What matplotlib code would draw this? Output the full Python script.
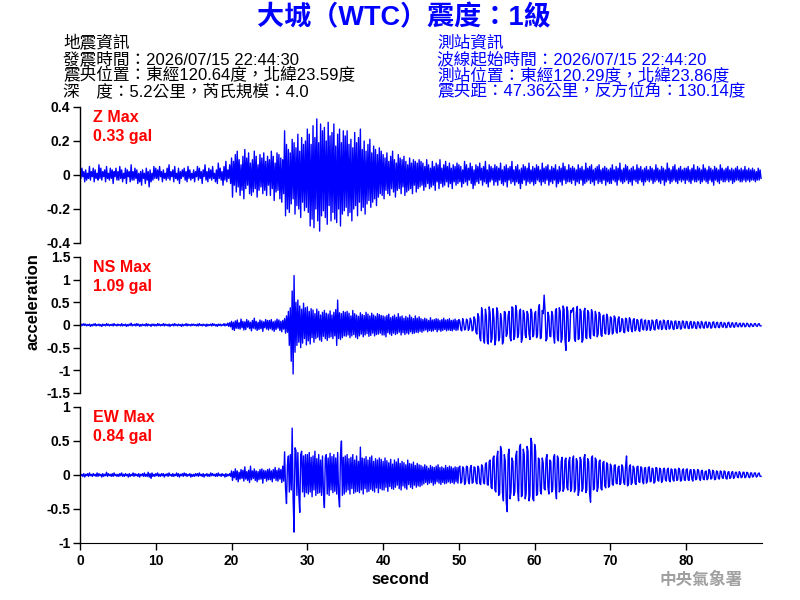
import numpy as np
import matplotlib
matplotlib.use("Agg")
import matplotlib.pyplot as plt

plt.rcParams['font.family'] = ['Liberation Sans', 'Noto Sans CJK TC']
plt.rcParams['axes.unicode_minus'] = False

# each row = 5 seconds of trace, values in 0.01 gal
row_sec = 5.0

z_rows = [
    [3, -2, 4, -1, 2, -4, 3, -3, 1, -2, 5, -3, 2, -1, 4, -4, 3, -2, 1, -3, 6, -2, 4, -3, 2, -1, 3, -4, 5, -2, 1, -3, 4, -2, 3, -5, 2, -1, 4, -3],
    [2, -3, 5, -2, 3, -4, 1, -2, 4, -5, 3, -1, 2, -4, 6, -3, 2, -3, 4, -2, 3, -5, 1, -4, 2, -6, 3, -2, 1, -5, 4, -3, 2, -7, 3, -4, 1, -3, 5, -2],
    [4, -2, 3, -3, 5, -1, 2, -4, 3, -2, 1, -3, 4, -2, 6, -3, 2, -1, 3, -4, 5, -2, 1, -3, 4, -5, 2, -2, 3, -1, 4, -3, 2, -4, 5, -2, 3, -3, 1, -2],
    [3, -4, 2, -1, 5, -3, 4, -2, 2, -5, 3, -1, 6, -3, 2, -4, 4, -2, 3, -3, 5, -2, 1, -4, 3, -5, 7, -2, 4, -3, 2, -6, 5, -3, 8, -4, 3, -2, 6, -5],
    [10, -13, 8, -6, 12, -10, 14, -7, 9, -12, 6, -9, 11, -14, 15, -8, 10, -6, 13, -11, 7, -12, 9, -10, 14, -8, 11, -13, 6, -9, 12, -7, 10, -11, 13, -9, 8, -12, 11, -6],
    [9, -12, 14, -8, 11, -15, 7, -10, 13, -9, 12, -14, 10, -16, 9, -11, 26, -24, 18, -20, 15, -22, 13, -17, 21, -14, 19, -23, 16, -18, 24, -20, 14, -25, 22, -16, 18, -21, 20, -19],
    [27, -22, 24, -30, 18, -26, 29, -31, 22, -20, 33, -27, 19, -33, 30, -24, 26, -21, 28, -25, 20, -29, 31, -18, 23, -27, 25, -22, 30, -26, 17, -28, 24, -20, 27, -30, 19, -23, 26, -21],
    [23, -19, 26, -24, 18, -22, 21, -27, 16, -20, 25, -18, 19, -24, 22, -16, 27, -21, 15, -19, 20, -23, 14, -17, 18, -15, 21, -19, 13, -16, 17, -14, 15, -18, 12, -13, 16, -11, 14, -12],
    [12, -14, 10, -9, 13, -11, 8, -12, 11, -8, 14, -10, 9, -13, 7, -9, 12, -8, 10, -11, 9, -7, 11, -12, 8, -10, 6, -9, 10, -8, 7, -11, 9, -6, 8, -10, 7, -8, 9, -7],
    [8, -6, 7, -9, 5, -7, 9, -5, 6, -8, 4, -7, 8, -6, 5, -9, 7, -4, 6, -8, 9, -5, 4, -7, 6, -6, 8, -4, 5, -7, 7, -5, 4, -8, 6, -4, 5, -6, 7, -5],
    [6, -4, 5, -7, 3, -5, 8, -4, 6, -6, 4, -3, 7, -5, 5, -8, 3, -6, 6, -4, 5, -5, 7, -3, 4, -6, 5, -4, 8, -5, 3, -7, 6, -4, 5, -3, 4, -6, 6, -4],
    [5, -6, 4, -3, 7, -5, 3, -6, 5, -4, 6, -7, 4, -3, 5, -5, 8, -4, 3, -6, 5, -4, 6, -5, 3, -8, 4, -5, 6, -3, 5, -6, 4, -4, 7, -5, 3, -4, 5, -6],
    [4, -5, 6, -3, 5, -4, 3, -6, 7, -4, 4, -5, 5, -3, 6, -6, 3, -4, 5, -5, 4, -3, 6, -7, 3, -5, 5, -4, 4, -6, 7, -3, 5, -5, 3, -4, 6, -4, 4, -5],
    [5, -3, 4, -6, 3, -4, 6, -5, 4, -3, 5, -6, 3, -5, 7, -4, 4, -3, 5, -5, 6, -4, 3, -6, 4, -3, 5, -5, 6, -4, 3, -5, 4, -3, 5, -6, 4, -4, 3, -5],
    [4, -5, 6, -3, 3, -4, 5, -6, 4, -3, 7, -4, 3, -5, 4, -4, 6, -3, 5, -5, 3, -4, 4, -6, 5, -3, 3, -4, 6, -5, 4, -3, 5, -4, 3, -6, 4, -4, 5, -3],
    [3, -4, 5, -3, 4, -5, 3, -4, 6, -3, 4, -4, 3, -5, 5, -3, 4, -6, 3, -4, 7, -3, 4, -5, 3, -4, 5, -3, 6, -4, 3, -5, 4, -3, 5, -4, 3, -3, 4, -5],
    [4, -3, 5, -4, 3, -5, 4, -3, 6, -4, 3, -4, 5, -3, 4, -5, 3, -4, 6, -3, 4, -4, 3, -5, 5, -3, 4, -4, 3, -6, 5, -3, 4, -4, 3, -5, 6, -3, 4, -4],
    [3, -4, 4, -3, 5, -4, 3, -3, 4, -5, 3, -4, 4, -3, 5, -3, 3, -4, 4, -4, 3, -3, 5, -4, 3, -3, 4, -4, 3, -3, 4, -3, 3, -4, 2, -3, 4, -3, 3, -2],
]

ns_rows = [
    [1, -2, 2, -1, 3, -1, 2, -2, 1, -1, 2, -3, 1, -2, 2, -1, 3, -2, 1, -1, 2, -2, 1, -3, 2, -1, 1, -2, 3, -1, 2, -2, 1, -1, 2, -2, 3, -1, 1, -2],
    [2, -1, 1, -2, 3, -2, 1, -1, 2, -3, 1, -2, 2, -1, 4, -2, 1, -1, 2, -2, 3, -1, 2, -3, 1, -2, 2, -1, 1, -2, 3, -2, 2, -1, 1, -3, 2, -1, 2, -2],
    [1, -2, 3, -1, 2, -2, 1, -1, 3, -2, 2, -1, 1, -2, 2, -3, 1, -1, 2, -2, 3, -1, 1, -2, 2, -1, 1, -3, 2, -2, 1, -1, 3, -2, 2, -1, 1, -2, 2, -1],
    [2, -1, 1, -2, 2, -2, 3, -1, 1, -2, 2, -1, 1, -3, 2, -2, 1, -1, 2, -2, 3, -1, 2, -2, 1, -3, 2, -1, 2, -2, 1, -1, 3, -2, 2, -1, 4, -3, 5, -4],
    [8, -10, 6, -12, 9, -7, 11, -8, 5, -9, 13, -6, 8, -11, 7, -10, 12, -5, 9, -8, 6, -13, 10, -7, 15, -9, 8, -12, 6, -10, 11, -8, 9, -14, 7, -6, 12, -9, 10, -11],
    [10, -8, 12, -11, 7, -14, 9, -10, 13, -7, 11, -12, 8, -15, 10, -9, 14, -18, 20, -16, 30, -45, 38, -80, 75, -108, 109, -60, 50, -45, 55, -38, 42, -50, 35, -40, 48, -30, 38, -44],
    [40, -35, 30, -42, 36, -28, 33, -38, 25, -30, 35, -27, 30, -33, 22, -36, 28, -25, 32, -30, 26, -34, 24, -28, 31, -26, 22, -30, 28, -24, 34, -45, 55, -30, 27, -32, 25, -28, 30, -24],
    [28, -25, 30, -22, 26, -28, 20, -24, 32, -21, 25, -27, 22, -30, 19, -24, 27, -20, 23, -26, 21, -22, 28, -19, 24, -25, 20, -23, 26, -18, 22, -24, 19, -21, 25, -20, 23, -18, 21, -22],
    [20, -22, 18, -26, 21, -17, 24, -20, 16, -23, 19, -18, 22, -21, 17, -19, 25, -16, 18, -22, 20, -17, 15, -21, 19, -18, 16, -20, 22, -15, 17, -19, 14, -18, 20, -16, 15, -17, 18, -14],
    [14, -16, 12, -13, 15, -11, 13, -15, 10, -12, 16, -14, 11, -13, 12, -10, 14, -15, 13, -11, 10, -14, 12, -12, 15, -10, 11, -13, 12, -11, 14, -12, 10, -13, 11, -10, 13, -12, 10, -11],
    [12, 8, -10, -13, 14, 6, -11, -9, 13, 10, -12, -8, 15, 9, -13, -11, 18, 12, -16, -20, 25, 18, -28, -35, 38, 22, -30, -40, 35, 20, -36, -42, 40, 25, -38, -30, 36, 15, -44, -32],
    [38, 30, -35, -28, 25, 10, -42, -36, 30, 28, -25, -20, 22, 30, -28, -35, 40, 38, -32, -25, 43, 30, -28, -20, 30, 35, -38, -30, 32, 25, -22, -28, 30, 24, -20, -32, 35, 28, -26, -22],
    [25, 30, -28, -22, 35, 45, -30, -28, 32, 25, 66, 30, -35, -30, 28, 20, -25, -26, 30, 22, -24, -40, 32, 36, -30, -35, 38, 30, -38, -30, 42, 35, -32, -56, 40, 30, -36, -30, 32, 28],
    [35, 38, -30, -36, 28, 41, -32, -30, 35, 30, -38, -33, 30, 37, -28, -30, 32, 28, -25, -30, 34, 26, -22, -24, 30, 22, -26, -20, 28, 24, -22, -25, 20, 22, -18, -20, 24, 18, -21, -17],
    [18, 15, -20, -17, 20, 16, -14, -18, 13, 18, -15, -12, 14, 12, -16, -17, 15, 13, -11, -14, 16, 12, -10, -15, 11, 14, -13, -10, 12, 10, -12, -14, 11, 13, -9, -11, 10, 11, -12, -9],
    [10, 9, -12, -8, 11, 8, -10, -11, 10, 12, -7, -9, 8, 9, -10, -8, 11, 9, -7, -10, 8, 10, -9, -7, 9, 7, -8, -10, 8, 9, -8, -7, 8, 7, -9, -8, 9, 8, -6, -7],
    [8, 7, -7, -8, 6, 8, -7, -6, 7, 6, -7, -8, 7, 6, -5, -7, 8, 5, -6, -7, 6, 7, -6, -5, 6, 5, -7, -6, 6, 7, -5, -6, 5, 6, -5, -6, 5, 6, -4, -5],
    [5, 4, -6, -5, 5, 6, -4, -5, 4, 5, -4, -5, 4, 5, -3, -4, 3, 4, -4, -3, 4, 3, -4, -3, 4, 3, -3, -4, 3, 2, -3, -3, 3, 3, -2, -3, 2, 3, -2, -2],
]

ew_rows = [
    [2, -1, 1, -2, 2, -3, 1, -1, 2, -2, 3, -1, 1, -2, 2, -1, 1, -2, 3, -2, 2, -1, 1, -3, 2, -2, 1, -1, 4, -2, 2, -1, 1, -2, 2, -2, 3, -1, 1, -2],
    [1, -2, 2, -1, 3, -2, 1, -2, 2, -1, 1, -3, 2, -2, 1, -1, 3, -2, 2, -1, 1, -2, 2, -3, 1, -1, 2, -2, 3, -2, 1, -2, 4, -3, 2, -5, 3, -2, 1, -2],
    [2, -1, 3, -2, 1, -2, 2, -1, 2, -3, 1, -1, 2, -2, 3, -1, 1, -2, 2, -2, 1, -1, 3, -2, 2, -3, 1, -1, 2, -2, 3, -1, 2, -2, 1, -1, 2, -3, 1, -2],
    [1, -2, 2, -1, 2, -2, 3, -1, 1, -2, 2, -3, 1, -1, 2, -2, 1, -2, 3, -1, 2, -1, 1, -2, 2, -2, 3, -1, 1, -2, 2, -1, 1, -3, 2, -2, 1, -1, 2, -2],
    [6, -8, 5, -4, 9, -7, 6, -10, 4, -6, 8, -5, 7, -9, 12, -6, 5, -8, 7, -11, 13, -7, 6, -5, 9, -8, 6, -10, 5, -7, 8, -6, 9, -12, 7, -5, 6, -9, 8, -7],
    [9, -7, 6, -10, 8, -5, 11, -8, 7, -9, 10, -6, 8, -11, 13, -9, 34, -20, -42, 15, 28, -25, 30, -22, 69, -35, -84, 40, 36, -30, 33, -28, -55, 30, 35, -25, 28, -32, 30, -26],
    [30, -28, 33, -25, 26, -32, 28, -22, 35, -30, 24, -27, 30, -26, 22, -30, 28, -25, -48, 26, 30, -28, 25, -30, 32, -22, 27, -26, 30, -24, 25, -28, 33, -30, -47, 28, 50, -30, 26, -28],
    [28, -25, 30, -22, 24, -28, 26, -20, 30, -27, 22, -25, 28, -24, 20, -26, 41, -22, 25, -28, 24, -20, 27, -25, 22, -24, 26, -21, 28, -23, 20, -25, 24, -19, 22, -26, 25, -20, 23, -22],
    [20, -22, 25, -18, 21, -24, 18, -17, 23, -20, 16, -21, 22, -18, 19, -15, 24, -20, 17, -22, 20, -16, 18, -19, 15, -21, 22, -14, 17, -18, 16, -20, 19, -15, 14, -18, 17, -16, 15, -17],
    [14, -15, 12, -13, 15, -11, 13, -14, 10, -12, 14, -11, 12, -15, 11, -13, 13, -10, 15, -12, 11, -14, 12, -11, 10, -13, 14, -12, 11, -10, 13, -12, 12, -11, 10, -13, 12, -10, 11, -12],
    [11, 13, -12, -10, 12, 10, -14, -11, 13, 12, -9, -13, 10, 14, -12, -11, 12, 11, -10, -13, 13, 10, -12, -14, 15, 12, -11, -13, 16, 18, -14, -15, 20, 22, -18, -20, 25, 28, -22, -25],
    [25, 35, -30, -28, 42, 35, -25, -38, 30, 20, -40, -54, 30, 38, -35, -25, 25, 20, -30, -25, 28, 35, -22, -38, 40, 45, -32, -30, 38, 30, -35, -28, 42, 35, -38, -30, 54, 48, -35, -38],
    [45, 35, -30, -28, 25, 22, -24, -28, 25, 18, -20, -22, 24, 30, -18, -28, 22, 20, -25, -22, 26, 30, -20, -35, 28, 24, -25, -22, 20, 26, -24, -20, 22, 25, -18, -22, 20, 26, -24, -20],
    [22, 28, -25, -20, 24, 20, -30, -22, 26, 22, -24, -20, 25, 30, -26, -22, 24, 20, -28, -40, 25, 28, -22, -20, 25, 22, -24, -18, 20, 22, -20, -22, 18, 20, -16, -19, 18, 16, -18, -16],
    [16, 12, -14, -15, 14, 15, -12, -13, 11, 13, -14, -12, 15, 12, -11, -14, 13, 28, -16, -14, 12, 15, -14, -11, 13, 10, -12, -14, 12, 13, -10, -11, 12, 11, -10, -13, 10, 11, -12, -9],
    [11, 12, -10, -9, 10, 9, -12, -10, 11, 10, -8, -9, 10, 8, -11, -8, 9, 10, -7, -9, 8, 10, -8, -10, 9, 8, -7, -9, 9, 8, -8, -7, 10, 8, -9, -8, 7, 9, -7, -8],
    [8, 9, -7, -8, 7, 8, -6, -9, 8, 6, -7, -6, 8, 7, -5, -8, 6, 7, -6, -7, 5, 6, -7, -5, 8, 6, -6, -5, 7, 5, -7, -6, 6, 5, -5, -6, 6, 5, -4, -5],
    [6, 5, -5, -6, 4, 5, -5, -4, 4, 5, -5, -3, 4, 4, -3, -4, 5, 3, -4, -3, 4, 4, -4, -3, 4, 3, -3, -4, 3, 3, -3, -2, 3, 3, -3, -2, 2, 3, -2, -2],
]

comp_names = ['Z', 'NS', 'EW']
max_gal = ['0.33', '1.09', '0.84']
y_ticks = [[-0.4, -0.2, 0, 0.2, 0.4],
           [-1.5, -1, -0.5, 0, 0.5, 1, 1.5],
           [-1, -0.5, 0, 0.5, 1]]
y_labels = [['-0.4', '-0.2', '0', '0.2', '0.4'],
            ['-1.5', '-1', '-0.5', '0', '0.5', '1', '1.5'],
            ['-1', '-0.5', '0', '0.5', '1']]
x_ticks = [0, 10, 20, 30, 40, 50, 60, 70, 80]

title = '大城（WTC）震度：1級'
quake_info = ['地震資訊',
              '發震時間：2026/07/15 22:44:30',
              '震央位置：東經120.64度，北緯23.59度',
              '深\u3000度：5.2公里，芮氏規模：4.0']
station_info = ['測站資訊',
                '波線起始時間：2026/07/15 22:44:20',
                '測站位置：東經120.29度，北緯23.86度',
                '震央距：47.36公里，反方位角：130.14度']


def build_trace(rows):
    ts, vs = [], []
    for k, row in enumerate(rows):
        n = len(row)
        ts.append(k * row_sec + np.arange(n) * row_sec / n)
        vs.append(np.array(row) / 100.0)
    return np.concatenate(ts), np.concatenate(vs)


traces = [build_trace(z_rows), build_trace(ns_rows), build_trace(ew_rows)]

fig = plt.figure(figsize=(8, 6), dpi=100)
W, H = 800.0, 600.0

# axes rectangles in pixels: top, bottom
boxes = [(107, 243), (257, 393), (407, 543)]
left_px, right_px = 80, 762

for i, (top, bot) in enumerate(boxes):
    ax = fig.add_axes([left_px / W, 1 - bot / H, (right_px - left_px) / W, (bot - top) / H])
    t, y = traces[i]
    ax.plot(t, y, color='#0000ff', lw=1.0)
    ax.set_xlim(0, 90)
    ax.set_ylim(y_ticks[i][0], y_ticks[i][-1])
    ax.set_yticks(y_ticks[i])
    ax.set_yticklabels(y_labels[i], fontsize=10, fontweight='bold')
    for s in ['top', 'right']:
        ax.spines[s].set_visible(False)
    ax.spines['left'].set_linewidth(1.0)
    ax.tick_params(axis='y', direction='out', length=5, width=1, pad=2)
    if i < 2:
        ax.spines['bottom'].set_visible(False)
        ax.set_xticks([])
    else:
        ax.set_xticks(x_ticks)
        ax.set_xticklabels([str(v) for v in x_ticks], fontsize=10, fontweight='bold')
        ax.tick_params(axis='x', direction='out', length=5, width=1, pad=3)
    ax.text(13 / (right_px - left_px), 1 - 10 / (bot - top), comp_names[i] + ' Max',
            transform=ax.transAxes, color='red', fontsize=11.5, fontweight='bold', va='center')
    ax.text(13 / (right_px - left_px), 1 - 30 / (bot - top), max_gal[i] + ' gal',
            transform=ax.transAxes, color='red', fontsize=11.5, fontweight='bold', va='center')

fig.text(404 / W, 1 - 18 / H, title, color='#0000ff', fontsize=19.5, fontweight='bold',
         ha='center', va='center')

for k, line in enumerate(quake_info):
    fig.text(63 / W, 1 - (43 + 16 * k) / H, line, color='black', fontsize=12,
             ha='left', va='center')
for k, line in enumerate(station_info):
    fig.text(437 / W, 1 - (43 + 16 * k) / H, line, color='#0000ff', fontsize=12,
             ha='left', va='center')

fig.text(33 / W, 1 - 302 / H, 'acceleration', rotation=90, fontsize=12, fontweight='bold',
         ha='center', va='center')
fig.text(400 / W, 1 - 580 / H, 'second', fontsize=12, fontweight='bold',
         ha='center', va='center')
fig.text(701 / W, 1 - 580 / H, '中央氣象署', color='#a0a0a0', fontsize=12, fontweight='bold',
         ha='center', va='center')

fig.savefig('out.png', dpi=100)
